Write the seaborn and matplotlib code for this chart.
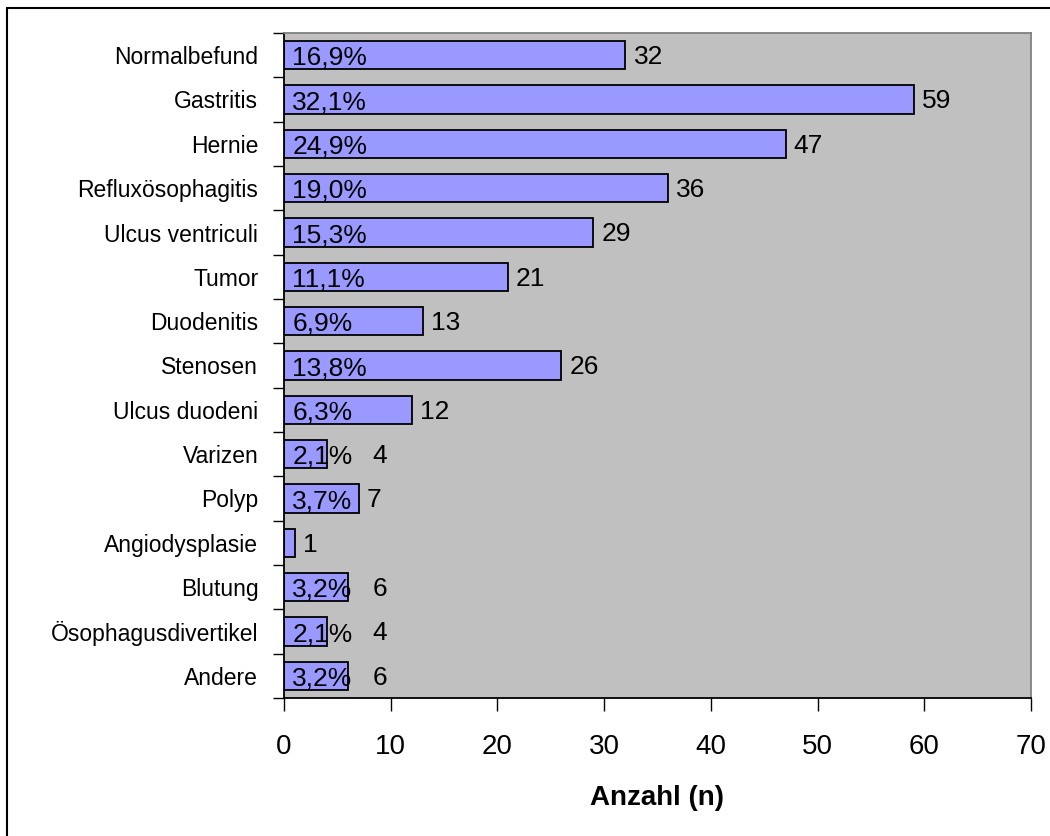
import matplotlib
matplotlib.use("Agg")
import matplotlib.pyplot as plt
import seaborn as sns
import pandas as pd
from matplotlib.patches import Rectangle

# Befunde (Gastroskopie), Anzahl und Anteil in %
categories = ["Normalbefund", "Gastritis", "Hernie", "Refluxösophagitis",
              "Ulcus ventriculi", "Tumor", "Duodenitis", "Stenosen",
              "Ulcus duodeni", "Varizen", "Polyp", "Angiodysplasie",
              "Blutung", "Ösophagusdivertikel", "Andere"]
counts = [32, 59, 47, 36, 29, 21, 13, 26, 12, 4, 7, 1, 6, 4, 6]
percents = [16.9, 32.1, 24.9, 19.0, 15.3, 11.1, 6.9, 13.8, 6.3, 2.1, 3.7,
            None, 3.2, 2.1, 3.2]
x_ticks = [0, 10, 20, 30, 40, 50, 60, 70]

df = pd.DataFrame({"Befund": categories, "Anzahl": counts})

sns.set_style("white")
plt.rcParams["font.family"] = ["Liberation Sans", "DejaVu Sans"]
plt.rcParams["text.color"] = "black"
plt.rcParams["axes.labelcolor"] = "black"
plt.rcParams["xtick.color"] = "black"
plt.rcParams["ytick.color"] = "black"

W, H = 1050, 836
fig = plt.figure(figsize=(W / 100, H / 100), dpi=100)
ax = fig.add_axes([284 / W, 1 - 698 / H, (1031 - 284) / W, (698 - 33) / H])

sns.barplot(data=df, x="Anzahl", y="Befund", orient="h", color="#9999FF",
            saturation=1, edgecolor="black", linewidth=1.3, width=0.64, ax=ax)

ax.set_facecolor("#C0C0C0")
ax.set_xlim(0, 70)
ax.set_ylim(len(categories) - 0.5, -0.5)
ax.set_xticks(x_ticks)
ax.set_xlabel("Anzahl (n)", fontsize=20, fontweight="bold", labelpad=18)
ax.set_ylabel("")

ax.tick_params(axis="x", bottom=True, length=9, width=1, colors="black",
               labelsize=20, pad=17)
ax.tick_params(axis="y", which="major", left=False, labelsize=16.5,
               labelcolor="black", pad=15)
ax.set_yticks([k - 0.5 for k in range(len(categories) + 1)], minor=True)
ax.tick_params(axis="y", which="minor", left=True, length=8, width=1,
               color="black")

for side in ["top", "right"]:
    ax.spines[side].set_color("#808080")
    ax.spines[side].set_linewidth(1.3)
for side in ["left", "bottom"]:
    ax.spines[side].set_color("black")
    ax.spines[side].set_linewidth(1.3)

# Prozentwerte in den Balken
pct_texts = []
for i, p in enumerate(percents):
    if p is None:
        pct_texts.append(None)
        continue
    label = f"{p:.1f}%".replace(".", ",")
    t = ax.annotate(label, xy=(0, i), xytext=(6, -2), textcoords="offset points",
                    ha="left", va="center", fontsize=19, color="black")
    pct_texts.append(t)

# Anzahl rechts neben den Balken
fig.canvas.draw()
renderer = fig.canvas.get_renderer()
inv = ax.transData.inverted()
for i, (n, t) in enumerate(zip(counts, pct_texts)):
    bar_end, y_px = ax.transData.transform((n, i))
    x_px = bar_end + 8
    if t is not None:
        text_end = t.get_window_extent(renderer).x1
        if text_end > bar_end:
            x_px = text_end + 20
    x_data, y_data = inv.transform((x_px, y_px - 2))
    ax.text(x_data, y_data, str(n), ha="left", va="center", fontsize=19,
            color="black")

# Rahmen um die Grafik
fig.add_artist(Rectangle((7 / W, -0.5), 2, 1 - 8 / H + 0.5,
                         transform=fig.transFigure, fill=False,
                         edgecolor="black", linewidth=1.5))

fig.savefig("out.png", dpi=100)
